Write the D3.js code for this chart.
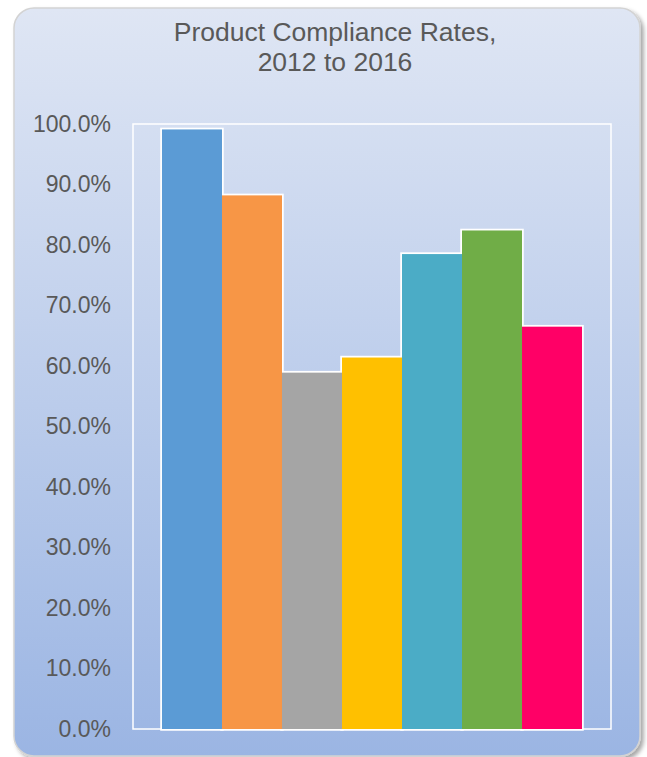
<!DOCTYPE html>
<html>
<head>
<meta charset="utf-8">
<script src="https://cdn.jsdelivr.net/npm/d3@7"></script>
<style>
  html, body { margin: 0; padding: 0; background: #fff; }
  svg { display: block; font-family: "Liberation Sans", Arial, sans-serif; }
</style>
</head>
<body>
<div id="chart"></div>
<script>
// chart data
const categories = ['A', 'B', 'C', 'D', 'E', 'F', 'G'];
const rates = [99.1, 88.2, 58.9, 61.4, 78.5, 82.4, 66.5];
const barColors = ['#5B9BD5', '#F79646', '#A5A5A5', '#FFC000', '#4BACC6', '#70AD47', '#FF0066'];
const tickValues = [0, 10, 20, 30, 40, 50, 60, 70, 80, 90, 100];
const titleLines = ['Product Compliance Rates,', '2012 to 2016'];

const width = 647, height = 757;

const svg = d3.select('#chart').append('svg')
  .attr('width', width).attr('height', height);

const defs = svg.append('defs');

/// background gradient of the panel
const grad = defs.append('linearGradient')
  .attr('id', 'panelGrad').attr('x1', 0).attr('y1', 0).attr('x2', 0).attr('y2', 1);
grad.append('stop').attr('offset', '0%').attr('stop-color', '#dfe6f4');
grad.append('stop').attr('offset', '100%').attr('stop-color', '#9bb5e3');

/// soft shadow to the bottom right
const shadow = defs.append('filter').attr('id', 'shadow')
  .attr('x', '-5%').attr('y', '-5%').attr('width', '110%').attr('height', '110%');
shadow.append('feDropShadow')
  .attr('dx', 3).attr('dy', 3).attr('stdDeviation', 2)
  .attr('flood-color', '#000').attr('flood-opacity', 0.35);

svg.append('rect')
  .attr('x', 14).attr('y', 8)
  .attr('width', 626).attr('height', 748)
  .attr('rx', 20).attr('ry', 20)
  .attr('fill', 'url(#panelGrad)')
  .attr('stroke', '#d3d3d3').attr('stroke-width', 1.5)
  .attr('filter', 'url(#shadow)');

/// title
svg.append('text')
  .attr('x', 335).attr('y', 41)
  .attr('text-anchor', 'middle')
  .attr('fill', '#595959')
  .style('font-size', '26.5px')
  .selectAll('tspan')
  .data(titleLines)
  .enter().append('tspan')
  .attr('x', 335)
  .attr('dy', (d, i) => i === 0 ? 0 : 30)
  .text(d => d);

/// scales
const plot = { left: 133, right: 611, top: 124, bottom: 729 };

const x = d3.scaleBand()
  .domain(categories)
  .range([plot.left, plot.right])
  .paddingInner(0)
  .paddingOuter(0.483);

const y = d3.scaleLinear()
  .domain([0, 100])
  .range([plot.bottom, plot.top]);

/// plot area outline
svg.append('rect')
  .attr('x', plot.left).attr('y', y(100))
  .attr('width', plot.right - plot.left).attr('height', y(0) - y(100))
  .attr('fill', 'none')
  .attr('stroke', '#ffffff').attr('stroke-width', 1.5);

/// y axis labels
const yAxis = d3.axisLeft(y)
  .tickValues(tickValues)
  .tickSize(0)
  .tickPadding(22)
  .tickFormat(d => d.toFixed(1) + '%');

const axisG = svg.append('g')
  .attr('transform', 'translate(' + plot.left + ',0)')
  .call(yAxis);
axisG.select('.domain').remove();
axisG.selectAll('text')
  .attr('fill', '#595959')
  .style('font-size', '23px')
  .style('font-family', '"Liberation Sans", Arial, sans-serif');

const data = categories.map((c, i) => ({ key: c, value: rates[i], color: barColors[i] }));

/// white outline around the bars (drawn underneath so only the outer edge shows)
svg.append('g').selectAll('rect')
  .data(data)
  .enter().append('rect')
  .attr('x', d => x(d.key))
  .attr('y', d => y(d.value))
  .attr('width', x.bandwidth())
  .attr('height', d => y(0) - y(d.value))
  .attr('fill', '#ffffff')
  .attr('stroke', '#ffffff').attr('stroke-width', 3.5);

/// bars
svg.append('g').selectAll('rect')
  .data(data)
  .enter().append('rect')
  .attr('x', d => x(d.key))
  .attr('y', d => y(d.value))
  .attr('width', x.bandwidth())
  .attr('height', d => y(0) - y(d.value))
  .attr('fill', d => d.color);
</script>
</body>
</html>
